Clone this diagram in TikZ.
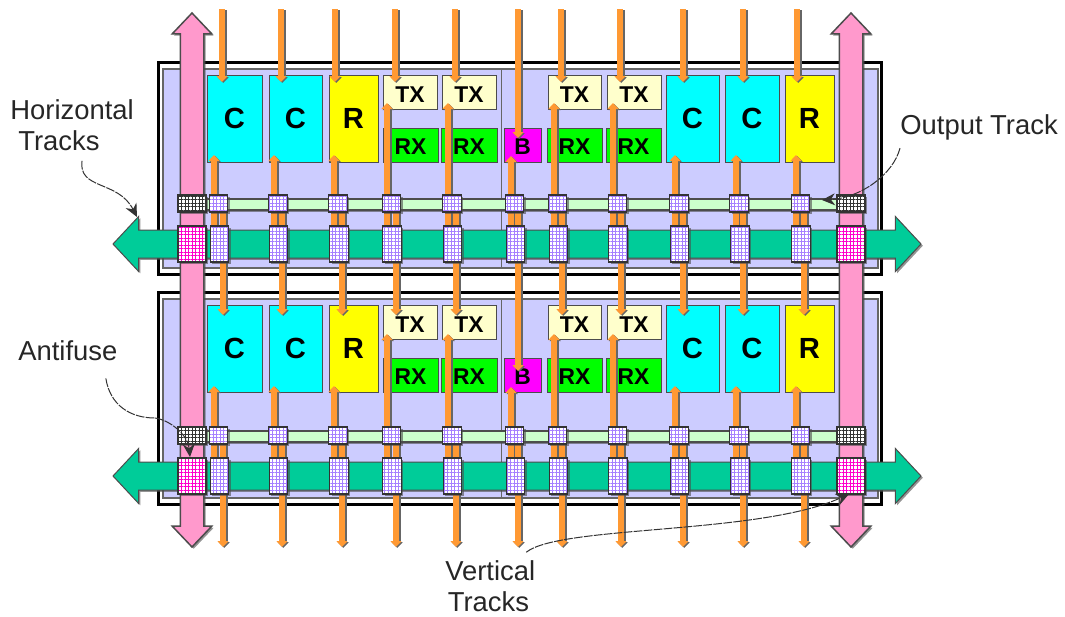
\documentclass[tikz,border=0pt]{standalone}
\usepackage{fontspec}
\setmainfont{Liberation Sans}
\usetikzlibrary{
  shapes.arrows, arrows.meta, shadows, patterns.meta
}
\definecolor{celllav}{HTML}{CCCCFF}
\definecolor{trackpink}{HTML}{FF99CC}
\definecolor{trackgreen}{HTML}{00CC99}
\definecolor{outgreen}{HTML}{CCFFCC}
\definecolor{wireorange}{HTML}{FF9933}
\definecolor{txcream}{HTML}{FFFFCC}
\definecolor{fusepurple}{HTML}{A680FF}
\definecolor{fusemag}{HTML}{FF00CC}
\definecolor{boxcyan}{HTML}{00FFFF}
\definecolor{boxyellow}{HTML}{FFFF00}
\definecolor{boxgreen}{HTML}{00FF00}
\definecolor{boxmag}{HTML}{FF00FF}
\newcommand{\px}{0.02cm}

\tikzset{
  softshadow/.style={drop shadow={shadow xshift=0.035cm, shadow yshift=-0.035cm, opacity=0.6, fill=black!70}},
  framebox/.style={rectangle, draw=black, fill=white, line width=0.07cm, minimum width=723*\px, minimum height=212*\px, inner sep=0pt},
  lavbox/.style={rectangle, draw=black!60, line width=0.025cm, fill=celllav, minimum width=715*\px, minimum height=199*\px, inner sep=0pt},
  logicbox/.style={rectangle, draw=black!70, line width=0.02cm, inner sep=0pt, fill=#1},
  tallbox/.style={logicbox=#1, minimum height=87*\px, font=\fontsize{16.6}{18}\selectfont\bfseries},
  lowbox/.style={logicbox=#1, minimum height=34*\px, text depth=0pt, font=\fontsize{13}{16}\selectfont\bfseries},
  wire/.style={line width=0.12cm, draw=wireorange, -{Triangle[width=0.22cm, length=0.12cm]},
    preaction={draw=black!60, line width=0.145cm, transform canvas={shift={(0.025cm,-0.02cm)}}}},
  fuse/.style={rectangle, draw=black!80, line width=0.025cm, inner sep=0pt, softshadow,
    preaction={fill=white},
    pattern={Hatch[angle=0, distance=0.07cm, line width=0.02cm]}, pattern color=#1},
  smallfuse/.style={fuse=#1, minimum height=17*\px},
  bigfuse/.style={fuse=#1, minimum height=36*\px},
  outbar/.style={rectangle, draw=black!70, line width=0.025cm, fill=outgreen, minimum width=660*\px, minimum height=11*\px, inner sep=0pt, softshadow},
  hortrack/.style={double arrow, draw=black!70, line width=0.02cm, fill=trackgreen, inner xsep=0pt, inner ysep=13.5*\px, softshadow,
    minimum height=808*\px, minimum width=54*\px, double arrow head extend=13.5*\px, double arrow tip angle=94},
  vertrack/.style={double arrow, rotate=90, draw=black!70, line width=0.03cm, fill=trackpink, inner xsep=0pt, inner ysep=11*\px, softshadow,
    minimum height=534*\px, minimum width=38*\px, double arrow head extend=8*\px, double arrow tip angle=87},
  leader/.style={draw=black!80, line width=0.02cm, dash pattern=on 5pt off 0.7pt, -{Stealth[length=0.26cm, width=0.24cm]}},
  callout/.style={inner sep=0pt, anchor=west, align=left, text=black!85, font=\fontsize{15.6}{17.5}\selectfont}
}

\begin{document}
\begin{tikzpicture}[x=0.02cm, y=-0.02cm]
  \useasboundingbox (0,0) rectangle (1065,616);

  % Two rows of the device
  \foreach \row/\dy/\dt in {a/0/0, b/230/232} {
    \node[framebox, softshadow] (frame\row) at (520,167.5+\dy+1) {};
    \node[lavbox] (core\row) at (520.5,167.5+\dy+1) {};
    \coordinate (divtop\row) at (501,70+\dy);
    \coordinate (divend\row) at (501,267+\dy);
    \draw[black!60, line width=0.02cm] (divtop\row) -- (divend\row);

    \foreach \name/\cx/\w/\col/\txt in {
      ca/234.5/55/boxcyan/C, cb/295.5/53/boxcyan/C, ra/353.5/49/boxyellow/R,
      cc/692.5/53/boxcyan/C, cd/752/54/boxcyan/C, rb/809.5/49/boxyellow/R} {
      \node[tallbox=\col, minimum width=\w*\px] (\name\row) at (\cx,118.5+\dy) {\txt};
    }
    \foreach \name/\cx/\w in {txa/410/54, txb/469/54, txc/574.5/53, txd/634/54} {
      \node[lowbox=txcream, minimum width=\w*\px, text height=11.6pt] (\name\row) at (\cx,92+\dy) {TX};
    }
    \foreach \name/\cx/\w/\col/\txt in {
      rxa/410.5/55/boxgreen/RX, rxb/469/56/boxgreen/RX, buf/522.5/37/boxmag/B,
      rxc/574.5/55/boxgreen/RX, rxd/633.5/55/boxgreen/RX} {
      \node[lowbox=\col, minimum width=\w*\px, text height=10.4pt] (\name\row) at (\cx,145+\dy) {\txt};
    }
  }

  % Vertical tracks of each column
  \foreach \n/\tx/\ux/\dx/\tipy/\upy in {
    1/222/214/223/82/155, 2/281/274/282/82/155, 3/335/334/342/82/155,
    4/395/387/396/82/103, 5/455/448/456/82/103, 6/518/511/518/138/156,
    7/561/554/562/82/103, 8/620/613/621/82/103, 9/683/675/683/82/155,
    10/743/736/743/82/155, 11/797/796/804/82/155} {
    \coordinate (in\n) at (\tx,9);
    \coordinate (intip\n) at (\tx,\tipy);
    \coordinate (upa\n) at (\ux,258);
    \coordinate (uptipa\n) at (\ux,\upy);
    \coordinate (upb\n) at (\ux,490);
    \coordinate (uptipb\n) at (\ux,\upy+231);
    \coordinate (downa\n) at (\dx,203);
    \coordinate (downtipa\n) at (\dx,\tipy+233);
    \coordinate (downb\n) at (\dx,435);
    \coordinate (out\n) at (\dx,547);
    \draw[wire] (in\n) -- (intip\n);
    \draw[wire] (upa\n) -- (uptipa\n);
    \draw[wire] (upb\n) -- (uptipb\n);
    \draw[wire] (downa\n) -- (downtipa\n);
    \draw[wire] (downb\n) -- (out\n);
  }

  % Horizontal tracks and their antifuses
  \foreach \row/\dt in {a/0, b/232} {
    \node[outbar] (bar\row) at (520,204.5+\dt) {};
    \node[hortrack] (hor\row) at (517,244+\dt) {};
    \foreach \n/\sx/\bx in {
      1/218.5/219.5, 2/278/278.5, 3/338/339, 4/391.5/392, 5/452/452.5,
      6/514.5/515.5, 7/557.5/558.5, 8/617.5/618, 9/679/679.5, 10/739/740, 11/800.5/801} {
      \node[smallfuse=fusepurple, minimum width=18.5*\px] (sf\row\n) at (\sx,203.5+\dt) {};
      \node[bigfuse=fusepurple, minimum width=18.5*\px] (bf\row\n) at (\bx,244+\dt) {};
    }
  }

  \node[vertrack] (verl) at (192,280) {};
  \node[vertrack] (verr) at (851,280) {};

  \foreach \row/\dt in {a/0, b/232} {
    \node[smallfuse=black!80, minimum width=28*\px] (afl\row) at (192,203.5+\dt) {};
    \node[smallfuse=black!80, minimum width=28*\px] (afr\row) at (851,203.5+\dt) {};
    \node[bigfuse=fusemag, minimum width=28*\px] (afml\row) at (192,244+\dt) {};
    \node[bigfuse=fusemag, minimum width=28*\px] (afmr\row) at (851,244+\dt) {};
  }

  % Labels
  \node[callout] (horlabel) at (10,125) {Horizontal\\\hspace*{0.16cm}Tracks};
  \node[callout] (outlabel) at (900,127) {Output Track};
  \node[callout] (fuselabel) at (18,351) {Antifuse};
  \node[callout, font=\fontsize{15.6}{17.5}\selectfont] (verlabel) at (445,586) {Vertical\\\hspace*{0.05cm}Tracks};

  \coordinate (hortip) at (137,217);
  \coordinate (outtip) at (822,200);
  \coordinate (fusetip) at (190,457);
  \coordinate (vertip) at (849,494);
  \coordinate (fusemid) at (155,418);

  \draw[leader] (horlabel.south) ++(10,10) .. controls (78,190) and (118,180) .. (hortip);
  \draw[leader] (outlabel.south west) ++(0,8) .. controls (893,175) and (860,198) .. (outtip);
  \draw[leader, -] (fuselabel.south) ++(38,17) .. controls (110,405) and (130,418) .. (fusemid);
  \draw[leader] (fusemid) .. controls (170,420) and (188,435) .. (fusetip);
  \draw[leader] (verlabel.north) ++(36,-8) .. controls (560,525) and (760,535) .. (vertip);
\end{tikzpicture}
\end{document}
